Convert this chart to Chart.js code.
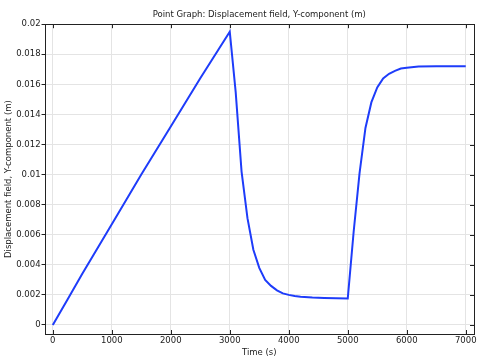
<!DOCTYPE html>
<html>
<head>
<meta charset="utf-8">
<script src="https://cdn.jsdelivr.net/npm/chart.js@4/dist/chart.umd.min.js"></script>
<style>
  body { margin: 0; background: #fff; }
  #chart { display: block; }
</style>
</head>
<body>
<canvas id="chart" width="483" height="363"></canvas>
<script>
// time (s) and Y displacement (m)
const times = [0, 250, 500, 1000, 1500, 2000, 2500, 3000,
    3100, 3200, 3300, 3400, 3500, 3600, 3700, 3800, 3900, 4000, 4100, 4200, 4400, 4600, 5000,
    5100, 5200, 5300, 5400, 5500, 5600, 5700, 5800, 5900, 6000, 6200, 6500, 7000];
const dispY = [0, 0.0017, 0.0034, 0.0067, 0.0100, 0.0132, 0.0164, 0.0195,
    0.0155, 0.0102, 0.0071, 0.0050, 0.0038, 0.0030, 0.0026, 0.0023, 0.0021, 0.0020, 0.00192, 0.00187, 0.00182, 0.00179, 0.00176,
    0.0062, 0.0101, 0.0131, 0.0148, 0.0158, 0.0164, 0.0167, 0.0169, 0.01705, 0.0171, 0.01718, 0.0172, 0.0172];

const xTicks = [0, 1000, 2000, 3000, 4000, 5000, 6000, 7000];
const yTicks = [0, 0.002, 0.004, 0.006, 0.008, 0.01, 0.012, 0.014, 0.016, 0.018, 0.02];

const FONT = 'DejaVu Sans';
const FS = 8.5;

// frame around the plot + small inward ticks on top/right/bottom
const framePlugin = {
    id: 'frame',
    afterLayout(chart) {
        // centre the title over the plot area, not the whole canvas
        const t = chart.titleBlock;
        t.left = chart.chartArea.left;
        t.right = chart.chartArea.right;
    },
    afterDraw(chart) {
        const { ctx, chartArea: a, scales } = chart;
        ctx.save();
        ctx.strokeStyle = '#222';
        ctx.lineWidth = 1;
        ctx.beginPath();
        xTicks.forEach(t => {
            const px = Math.round(scales.x.getPixelForValue(t)) + 0.5;
            ctx.moveTo(px, a.top); ctx.lineTo(px, a.top + 4);
            ctx.moveTo(px, a.bottom); ctx.lineTo(px, a.bottom - 4);
        });
        yTicks.forEach(t => {
            const py = Math.round(scales.y.getPixelForValue(t)) + 0.5;
            ctx.moveTo(a.right, py); ctx.lineTo(a.right - 4, py);
        });
        ctx.stroke();
        ctx.strokeRect(Math.round(a.left) + 0.5, Math.round(a.top) + 0.5,
            Math.round(a.right - a.left), Math.round(a.bottom - a.top));
        ctx.restore();
    }
};

new Chart(document.getElementById('chart').getContext('2d'), {
    type: 'line',
    data: {
        datasets: [{
            data: times.map((t, i) => ({ x: t, y: dispY[i] })),
            borderColor: 'rgb(30, 60, 250)',
            borderWidth: 2,
            pointRadius: 0,
            tension: 0,
            fill: false
        }]
    },
    options: {
        responsive: false,
        animation: false,
        layout: { padding: { left: 0, right: 9, top: 0, bottom: 0 } },
        plugins: {
            legend: { display: false },
            tooltip: { enabled: false },
            title: {
                display: true,
                text: 'Point Graph: Displacement field, Y-component (m)',
                color: '#222',
                font: { family: FONT, size: FS, weight: 'normal' },
                padding: { top: 10, bottom: 4 }
            }
        },
        scales: {
            x: {
                type: 'linear',
                min: -140,
                max: 7140,
                afterBuildTicks: axis => { axis.ticks = xTicks.map(v => ({ value: v })); },
                ticks: {
                    color: '#222',
                    font: { family: FONT, size: FS, lineHeight: 1 },
                    maxRotation: 0,
                    padding: 3,
                    callback: v => String(v)
                },
                grid: { color: '#e4e4e4', drawTicks: false },
                border: { display: false },
                title: {
                    display: true,
                    text: 'Time (s)',
                    color: '#222',
                    font: { family: FONT, size: FS, lineHeight: 1 },
                    padding: { top: 0, bottom: 6 }
                }
            },
            y: {
                type: 'linear',
                min: -0.0006,
                max: 0.02,
                afterBuildTicks: axis => { axis.ticks = yTicks.map(v => ({ value: v })); },
                ticks: {
                    color: '#222',
                    font: { family: FONT, size: FS },
                    padding: 1,
                    callback: v => String(+v.toFixed(4))
                },
                grid: { color: '#e4e4e4', tickColor: '#222', tickLength: 3 },
                border: { display: false },
                title: {
                    display: true,
                    text: 'Displacement field, Y-component (m)',
                    color: '#222',
                    font: { family: FONT, size: FS },
                    padding: { top: 4, bottom: 1 }
                }
            }
        }
    },
    plugins: [framePlugin]
});
</script>
</body>
</html>
